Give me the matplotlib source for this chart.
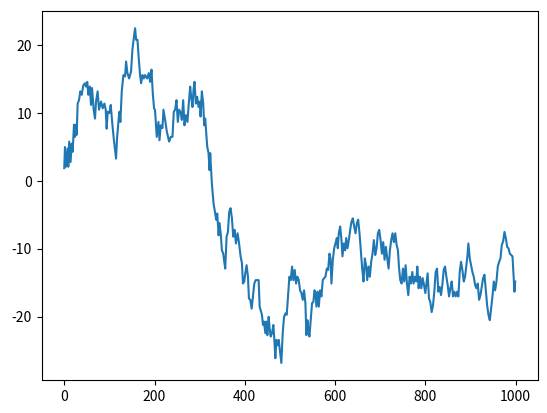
import matplotlib
matplotlib.use("Agg")
import matplotlib.pyplot as plt

plt.rcParams['font.family'] = ['Noto Sans CJK SC', 'DejaVu Sans']
plt.rcParams['axes.unicode_minus'] = False

steps = [0, 1.6, 3.8, 7.5, 9, 11, 14, 16.4, 18.6, 21.6, 23.8, 26, 27.5, 29.7, 32.7, 35.6, 38.6,
         42.3, 46, 48.2, 51, 53.4, 56.4, 59.3, 61.5, 65.2, 68.2, 70.4, 74, 77, 81.5, 85.2, 89,
         91.9, 94, 96.3, 100, 103, 106.7, 109.6, 112.6, 114.8, 117, 120, 122.2, 124.4, 127.4,
         131, 134.8, 137, 140, 143.7, 148, 151, 154, 157, 159.2, 162.2, 165, 168, 170.3, 173.3,
         176.2, 179, 183.6, 187.3, 190.3, 193.3, 196.2, 199,
         201, 205, 208.7, 211, 213.9, 217.6, 219.8, 223.5, 227.2, 232.4, 236, 239.8, 242.7,
         245.7, 248.7, 251.6, 254.6, 258.3, 260.5, 263.5, 266.4, 269.4, 273, 275.3, 279, 281.2,
         284.2, 286.4, 288.6, 291.6, 294.5, 297.5, 300.5, 302, 304.9, 307.9, 310.1, 312.3,
         313.8, 316.7, 319.7, 321.9, 323.4,
         327, 330.8, 334.5, 336.7, 339, 342, 344.1, 347, 349.3, 352.3, 354.5, 356.7, 359.7,
         362.6, 365.6, 368.5, 371.5, 374.5, 377.4, 380.4, 384, 387, 390.7, 393.7, 395.9, 398.9,
         401, 404, 407, 409.2, 412.2, 415.2, 418, 421.1, 424, 427.7, 430.7, 432.9, 435.9, 438,
         440.3, 442.5, 445.5, 447.7, 450, 452.9, 455, 457.3, 460.3, 463.3, 465.5, 467.7, 470,
         472.9, 475.1, 478, 481, 484, 487, 490, 492.9, 495.8, 498.8, 501.7, 504.7, 507.7, 510.6,
         513.6, 516.5, 519.5, 522.5, 525.4, 528.4, 531.3, 534.3, 536.5, 538.7, 541, 543.2,
         546.1, 549, 552, 554.3,
         556.5, 558.7, 561.7, 564, 566.9, 569.8, 572.8, 575.7, 578.7, 581.7, 584.6, 587.6,
         589.8, 592, 595, 598, 600.9, 603.9, 606, 608.3, 611.3, 614.2, 616.4, 619.4, 622.4,
         624.6, 627.5, 630.5, 633.5, 636.4, 639.4, 642.3, 645.3, 648.3, 651.2, 654.2, 657.1,
         660.1, 663, 666, 669, 671.2, 674.2, 677.1, 680, 683, 686, 689, 692, 694.9, 697.8,
         700.8, 703.8, 706.7, 709.7, 712.6, 715.6, 718.6, 721.5, 724.5, 727.4, 730.4, 733.4,
         736.3, 739.3, 741.5, 744.5, 747.4, 750.4, 753.3, 756.3, 759.3, 762.2, 765.2, 768.1,
         771.1, 774, 777,
         780, 782.2, 785.2, 788.1, 791.1, 794, 797, 800, 802.9, 805.1, 808.1, 811, 814, 817,
         819.9, 822.9, 825.9, 828.8, 831.8, 834.7, 837.7, 840.7, 843.6, 846.6, 849.5, 852.5,
         855.5, 858.4, 861.4, 864.3, 867.3, 870.3, 873.2, 876.2, 879.1, 882.1, 885.1, 888, 891,
         893.2, 895.4, 898.4, 901.3, 904.3, 907.3, 910.2, 913.2, 916.1, 919.1, 922.1, 925, 928,
         931, 933.9, 936.9, 939.8, 942.8, 945.7, 948.7, 951.7, 954.6, 957.6, 960.5, 963.5,
         966.5, 969.4, 972.4, 975.3, 978.3, 981.3, 984.2, 987.2, 990.1, 993.1, 995.3, 997.5, 999]

walk = [1.9, 5.0, 2.1, 4.8, 2.1, 5.8, 2.8, 5.5, 4.3, 8.3, 6.5, 8.3, 6.8, 11.4, 11.9, 13.2, 12.7,
        14.1, 14.4, 13.9, 14.6, 12.7, 13.9, 11.2, 13.7, 10.5, 9.2, 11.7, 13.2, 10.5, 11.7, 10.7,
        11.4, 10.5, 7.7, 10.2, 10.0, 11.2, 8.3, 6.3, 4.6, 3.3, 6.3, 8.7, 10.2, 8.7, 13.2,
        15.6, 15.4, 17.6, 15.9, 15.1, 16.1, 19.3, 21.0, 22.5, 20.8, 20.8, 18.1, 15.6, 14.4, 15.6,
        15.1, 15.6, 15.1, 15.9, 14.6, 16.4, 12.9, 10.7,
        10.5, 6.5, 8.7, 6.0, 8.2, 7.8, 10.5, 9.0, 7.3, 5.8, 6.5, 6.5, 10.2,
        10.5, 11.9, 8.7, 10.5, 10.0, 9.0, 11.9, 8.2, 9.7, 8.7, 10.9, 13.9, 12.4,
        10.9, 13.4, 14.6, 11.4, 12.4, 10.9, 11.7, 9.5, 13.2, 11.4, 8.2, 9.2,
        7.8, 5.1, 4.1, 1.6, 4.1,
        -0.3, -3.3, -4.8, -5.7, -4.8, -8.0, -6.2, -8.0, -10.2, -10.7, -11.9, -12.9, -8.2,
        -7.5, -4.5, -4.0, -5.5, -8.2, -7.2, -9.2, -7.7, -9.0, -11.1, -12.1, -15.1, -14.8,
        -13.6, -12.4, -14.1, -17.3, -17.5, -18.8, -17.0, -15.1, -14.6, -14.6, -14.6, -18.5, -19.2, -19.7,
        -21.2, -20.7, -22.4, -20.7, -22.7, -20.0, -21.7, -22.9, -22.4, -21.2, -23.4, -26.1, -23.4,
        -24.2, -23.4, -25.1, -26.8, -22.4, -20.0, -19.5, -19.7, -17.0, -14.1, -14.6, -12.6, -14.6, -13.1,
        -15.1, -14.1, -14.6, -16.1, -16.5, -17.5, -16.1, -18.0, -22.7, -20.5, -22.0, -22.9,
        -20.5, -18.0, -17.8, -16.1,
        -16.3, -18.5, -16.3, -18.5, -16.1, -17.0, -14.6, -14.3, -14.1, -12.9, -13.1, -10.7,
        -11.4, -15.1, -11.6, -9.9, -9.2, -8.4, -9.9, -7.7, -6.7, -8.7, -11.1, -9.2, -10.2,
        -8.4, -9.9, -8.7, -7.2, -6.0, -5.5, -6.7, -7.7, -6.2, -5.7, -7.7, -10.2,
        -12.9, -14.8, -11.4, -12.6, -14.6, -12.6, -14.1, -11.9, -10.7, -8.7, -10.9, -9.9, -7.7, -7.2,
        -8.7, -10.7, -9.0, -11.6, -9.7, -11.4, -12.9, -10.2, -8.7, -7.7, -9.0, -7.7,
        -9.4, -10.2, -12.6, -14.6, -15.1, -12.9, -14.8, -12.4, -15.1, -16.8, -14.1, -15.1,
        -13.4, -15.1, -14.1,
        -14.8, -12.6, -15.8, -14.1, -15.8, -14.3, -15.3, -16.5, -14.8, -13.6, -17.3, -17.8, -19.3, -18.3,
        -16.3, -13.4, -12.9, -16.3, -15.6, -16.8, -15.3, -13.1, -12.6, -14.1, -15.3, -17.0,
        -15.8, -14.8, -17.0, -16.3, -17.0, -16.3, -17.0, -13.4, -11.9, -13.1, -14.8, -14.1, -12.4,
        -11.1, -9.2, -11.4, -12.4, -13.4, -14.1, -15.3, -15.8, -15.1, -17.5, -16.8, -15.6, -14.3,
        -13.8, -16.1, -18.3, -19.7, -20.5, -18.8, -17.0, -14.8, -16.1, -14.8, -12.6, -11.9,
        -11.4, -9.4, -8.9, -7.5, -8.4, -9.7, -9.9, -10.7, -10.9, -11.1, -13.8, -16.3, -14.8]

fig = plt.figure(figsize=(5.47, 4.13), dpi=100)
ax = fig.add_axes([41.7 / 547, (413 - 380.3) / 413, 496 / 547, 369.6 / 413])
ax.plot(steps, walk, color='#1f77b4', linewidth=1.5)
ax.set_xlim(-49.95, 1048.95)
ax.set_ylim(-29.35, 25.08)
ax.set_xticks([0, 200, 400, 600, 800, 1000])
ax.set_yticks([-20, -10, 0, 10, 20])
fig.savefig('out.png', dpi=100)
